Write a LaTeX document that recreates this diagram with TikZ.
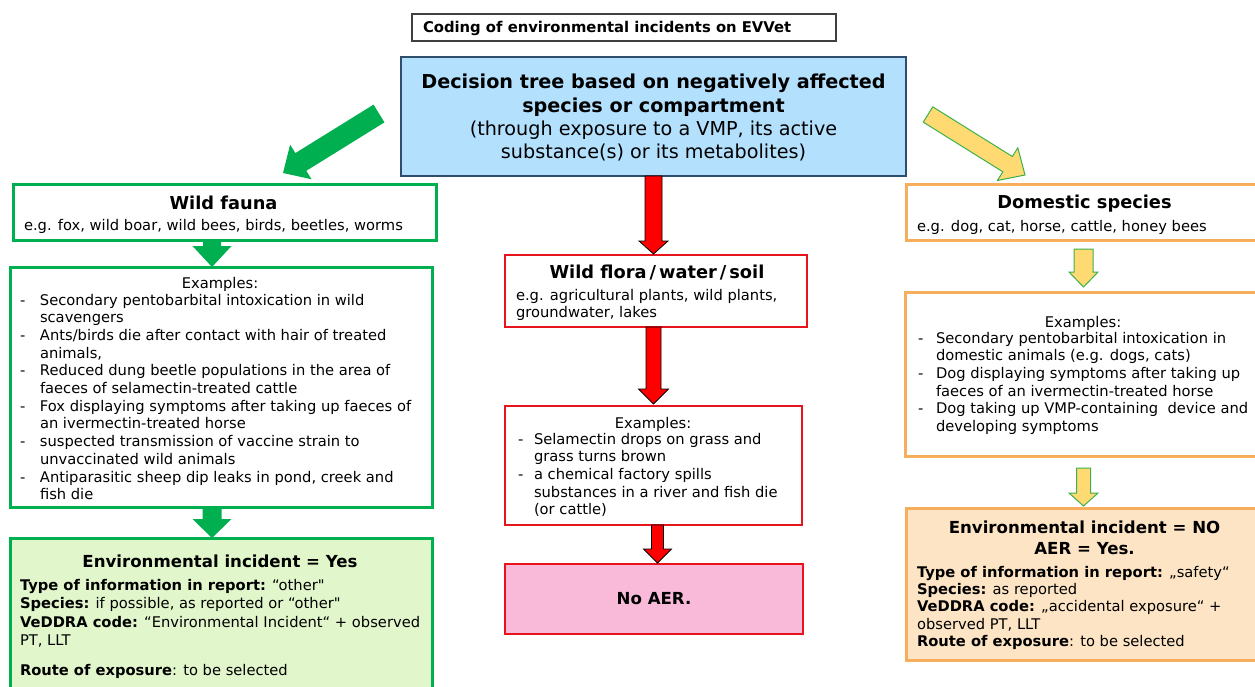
\documentclass[tikz,border=0pt]{standalone}
\usepackage{fontspec}
\setmainfont{DejaVu Sans}
\usetikzlibrary{calc}
\definecolor{gr}{HTML}{00B050}
\definecolor{lgr}{HTML}{E2F6CB}
\definecolor{org}{HTML}{F6AE5C}
\definecolor{peach}{HTML}{FDE4C4}
\definecolor{lblue}{HTML}{B3E0FD}
\definecolor{bblue}{HTML}{2E4E6B}
\definecolor{pinkf}{HTML}{F8BAD8}
\definecolor{yel}{HTML}{FFDA72}
\definecolor{ygr}{HTML}{3DB04B}
\definecolor{rdb}{HTML}{E8141B}
\definecolor{ttlb}{HTML}{404040}
\newcommand{\blockarr}[6]{%
  \coordinate (ba-h) at ($(#3)!#6!(#2)$);
  \draw[#1] (#3) -- ($(ba-h)!#5!90:(#2)$) -- ($(ba-h)!#4!90:(#2)$)
    -- ($(#2)!#4!-90:(ba-h)$) -- ($(#2)!#4!90:(ba-h)$)
    -- ($(ba-h)!#4!-90:(#2)$) -- ($(ba-h)!#5!-90:(#2)$) -- cycle;}
\newcommand{\bl}[2]{\makebox[#1][l]{-}#2}
\newcommand{\cl}[2]{\hspace*{#1}#2}
\newcommand{\sq}{{\XeTeXglyph\XeTeXcharglyph"22\relax}}
\newcommand{\wslash}{\kern3pt/\kern3pt}
\begin{document}
\begin{tikzpicture}[x=1pt,y=-1pt,
  every node/.style={inner sep=0pt, outer sep=0pt},
  bx/.style={anchor=north west},
  gbox/.style={bx, draw=gr, line width=3pt},
  obox/.style={bx, draw=org, line width=3pt},
  rbox/.style={bx, draw=rdb, line width=1.5pt},
  txt/.style={anchor=base west, font=\fontsize{14.7}{17.7}\selectfont},
  ctxt/.style={anchor=base, font=\fontsize{14.7}{17.7}\selectfont},
  ttl/.style={anchor=base, font=\bfseries\fontsize{17.8}{20}\selectfont},
  hd/.style={anchor=base, font=\bfseries\fontsize{16.6}{21}\selectfont},
  garr/.style={fill=gr, draw=none},
  rarr/.style={fill=red, draw=black, line width=0.8pt, line join=miter},
  yarr/.style={fill=yel, draw=ygr, line width=1pt},
]
\useasboundingbox (0,0) rectangle (1255,687);
\fill[white] (0,0) rectangle (1255,687);

% title
\node[bx, draw=ttlb, line width=1.2pt, minimum width=424pt, minimum height=27pt] (title) at (412,14) {};
\node[anchor=base west, font=\bfseries\fontsize{14.8}{16}\selectfont] (titletxt) at (423,33) {Coding of environmental incidents on EVVet};

% central blue box
\node[bx, draw=bblue, fill=lblue, line width=1.5pt, minimum width=505pt, minimum height=119pt] (blue) at (401,57) {};
\node[anchor=base, font=\fontsize{19.2}{23.3}\selectfont] (bluetxt) at (653.5,89)
  {\begin{tabular}[t]{@{}c@{}}\textbf{Decision tree based on negatively affected}\\
   \textbf{species or compartment}\\
   (through exposure to a VMP, its active\\
   substance(s) or its metabolites)\end{tabular}};

% ---------- left column ----------
\node[gbox, minimum width=423pt, minimum height=55pt] (wf) at (13,185) {};
\node[ttl] (wft) at (223.5,209) {Wild fauna};
\node[txt] (wfe) at (24,230) {e.g. fox, wild boar, wild bees, birds, beetles, worms};

\node[gbox, minimum width=422pt, minimum height=240pt] (ex1) at (10,267) {};
\node[ctxt] (ex1t) at (220,288) {Examples:};
\node[txt] (ex1l) at (20,305) {\begin{tabular}[t]{@{}l@{}}
  \bl{20pt}{Secondary pentobarbital intoxication in wild}\\
  \cl{20pt}{scavengers}\\
  \bl{20pt}{Ants/birds die after contact with hair of treated}\\
  \cl{20pt}{animals,}\\
  \bl{20pt}{Reduced dung beetle populations in the area of}\\
  \cl{20pt}{faeces of selamectin-treated cattle}\\
  \bl{20pt}{Fox displaying symptoms after taking up faeces of}\\
  \cl{20pt}{an ivermectin-treated horse}\\
  \bl{20pt}{suspected transmission of vaccine strain to}\\
  \cl{20pt}{unvaccinated wild animals}\\
  \bl{20pt}{Antiparasitic sheep dip leaks in pond, creek and}\\
  \cl{20pt}{fish die}\end{tabular}};

\node[gbox, fill=lgr, minimum width=422pt, minimum height=170pt] (eyes) at (10,538) {};
\node[hd] (eyest) at (220,567) {Environmental incident = Yes};
\node[anchor=base west, font=\fontsize{14.7}{18.6}\selectfont] (eyesl) at (20,590) {\begin{tabular}[t]{@{}l@{}}
  \textbf{Type of information in report:} “other\sq\\
  \textbf{Species:} if possible, as reported or “other\sq\\
  \textbf{VeDDRA code:} “Environmental Incident“ + observed\\
  PT, LLT\end{tabular}};
\node[txt] (eyesr) at (20,675) {\textbf{Route of exposure}: to be selected};

% ---------- middle column ----------
\node[rbox, minimum width=302pt, minimum height=72pt] (wfl) at (505,255) {};
\node[ttl] (wflt) at (657,278) {Wild flora\wslash water\wslash soil};
\node[txt] (wfle) at (516,300) {\begin{tabular}[t]{@{}l@{}}e.g. agricultural plants, wild plants,\\ groundwater, lakes\end{tabular}};

\node[rbox, minimum width=297pt, minimum height=119pt] (ex2) at (505,406) {};
\node[ctxt] (ex2t) at (653,428) {Examples:};
\node[txt] (ex2l) at (518,444) {\begin{tabular}[t]{@{}l@{}}
  \bl{16pt}{Selamectin drops on grass and}\\
  \cl{16pt}{grass turns brown}\\
  \bl{16pt}{a chemical factory spills}\\
  \cl{16pt}{substances in a river and fish die}\\
  \cl{16pt}{(or cattle)}\end{tabular}};

\node[bx, draw=rdb, fill=pinkf, line width=2pt, minimum width=298pt, minimum height=70pt] (noaer) at (505,564) {};
\node[hd] (noaert) at (654,604) {No AER.};

% ---------- right column ----------
\node[obox, minimum width=370pt, minimum height=55pt] (ds) at (906,185) {};
\node[ttl] (dst) at (1084.5,208) {Domestic species};
\node[txt] (dse) at (917,231) {e.g. dog, cat, horse, cattle, honey bees};

\node[obox, minimum width=370pt, minimum height=164pt] (ex3) at (905,292) {};
\node[ctxt] (ex3t) at (1083,327) {Examples:};
\node[txt] (ex3l) at (918,343) {\begin{tabular}[t]{@{}l@{}}
  \bl{18pt}{Secondary pentobarbital intoxication in}\\
  \cl{18pt}{domestic animals (e.g. dogs, cats)}\\
  \bl{18pt}{Dog displaying symptoms after taking up}\\
  \cl{18pt}{faeces of an ivermectin-treated horse}\\
  \bl{18pt}{Dog taking up VMP-containing\ \ device and}\\
  \cl{18pt}{developing symptoms}\end{tabular}};

\node[obox, fill=peach, minimum width=370pt, minimum height=152pt] (eno) at (906,508) {};
\node[hd] (enot) at (1084.5,533) {\begin{tabular}[t]{@{}c@{}}Environmental incident = NO\\ AER = Yes.\end{tabular}};
\node[anchor=base west, font=\fontsize{14.7}{17.4}\selectfont] (enol) at (917,577) {\begin{tabular}[t]{@{}l@{}}
  \textbf{Type of information in report:} „safety“\\
  \textbf{Species:} as reported\\
  \textbf{VeDDRA code:} „accidental exposure“ +\\
  observed PT, LLT\\
  \textbf{Route of exposure}: to be selected\end{tabular}};

% ---------- block arrows ----------
\coordinate (gdt) at (379,113.5);
\coordinate (gdh) at (283,173);
\blockarr{garr}{gdt}{gdh}{10.4pt}{20.4pt}{21pt}
\coordinate (ydt) at (928,114.5);
\coordinate (ydh) at (1025,175);
\blockarr{yarr}{ydt}{ydh}{9pt}{19.3pt}{20.5pt}

\coordinate (gx) at (212,0);
\blockarr{garr}{gx |- wf.south}{gx |- ex1.north}{9pt}{19.5pt}{21pt}
\blockarr{garr}{gx |- ex1.south}{gx |- eyes.north}{9.5pt}{19.5pt}{19pt}

\coordinate (rx1) at (653.5,0);
\coordinate (rx2) at (653.5,0);
\coordinate (rx3) at (657.5,0);
\blockarr{rarr}{rx1 |- blue.south}{$(rx1 |- wfl.north)+(0,-1)$}{8.5pt}{14.5pt}{13pt}
\blockarr{rarr}{rx2 |- wfl.south}{$(rx2 |- ex2.north)+(0,-2)$}{7.5pt}{15pt}{15pt}
\blockarr{rarr}{rx3 |- ex2.south}{$(rx3 |- noaer.north)+(0,-1)$}{6pt}{14pt}{14pt}

\coordinate (yx) at (1083.5,0);
\blockarr{yarr}{$(yx |- ds.south)+(0,9)$}{$(yx |- ex3.north)+(0,-5)$}{9.5pt}{14.5pt}{15pt}
\blockarr{yarr}{$(yx |- ex3.south)+(0,12)$}{$(yx |- eno.north)+(0,-2)$}{7pt}{14.5pt}{13pt}
\end{tikzpicture}
\end{document}
